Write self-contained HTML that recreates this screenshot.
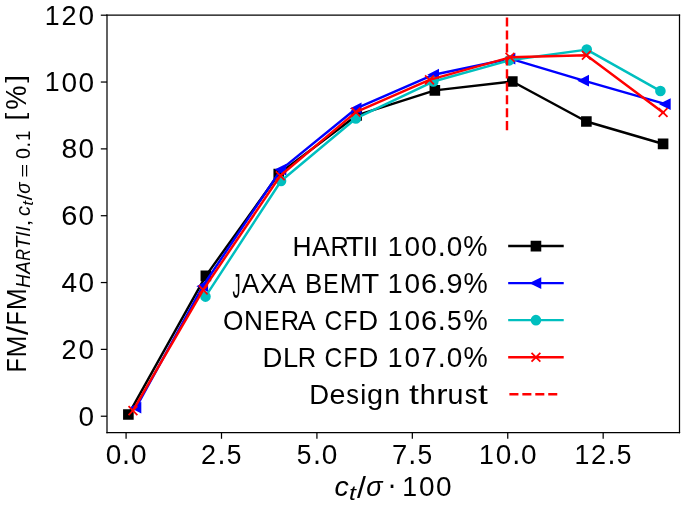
<!DOCTYPE html>
<html><head><meta charset="utf-8"><title>FM vs thrust chart</title>
<style>html,body{margin:0;padding:0;background:#fff;width:685px;height:505px;overflow:hidden}</style>
</head><body>
<svg width="685" height="505" viewBox="0 0 387.00565 285.310734" style="display:block;will-change:transform;font-family:'Liberation Sans',sans-serif">
<defs>
<style type="text/css">*{stroke-linejoin: round; stroke-linecap: butt}</style>
</defs>
<g id="figure_1">
<g id="patch_1">
<path d="M 0 285.310734 
L 387.00565 285.310734 
L 387.00565 0 
L 0 0 
z
" style="fill: #ffffff"/>
</g>
<g id="axes_1">
<g id="patch_2">
<path d="M 60.451977 244.40678 
L 383.898305 244.40678 
L 383.898305 8.587571 
L 60.451977 8.587571 
z
" style="fill: #ffffff"/>
</g>
<g id="matplotlib.axis_1">
<g id="xtick_1">
<g id="line2d_1">
<defs>
<path id="mb0549d59f7" d="M 0 0 
L 0 3.5 
" style="stroke: #000000; stroke-width: 0.7"/>
</defs>
<g>
<use href="#mb0549d59f7" x="71.233522" y="244.40678" style="stroke: #000000; stroke-width: 0.7"/>
</g>
</g>
<g id="text_1">
<g><text transform="matrix(1.054 0 0 1.068 59.677 262.01)" font-size="15">0</text><text transform="matrix(1.082 0 0 1.16 68.971 261.954)" font-size="15">.</text><text transform="matrix(1.054 0 0 1.068 73.989 262.01)" font-size="15">0</text></g>
</g>
</g>
<g id="xtick_2">
<g id="line2d_2">
<g>
<use href="#mb0549d59f7" x="125.141243" y="244.40678" style="stroke: #000000; stroke-width: 0.7"/>
</g>
</g>
<g id="text_2">
<g><text transform="matrix(1.016 0 0 1.063 113.546 261.954)" font-size="15">2</text><text transform="matrix(1.082 0 0 1.16 122.879 261.954)" font-size="15">.</text><text transform="matrix(0.995 0 0 1.065 128.085 262.011)" font-size="15">5</text></g>
</g>
</g>
<g id="xtick_3">
<g id="line2d_3">
<g>
<use href="#mb0549d59f7" x="179.048964" y="244.40678" style="stroke: #000000; stroke-width: 0.7"/>
</g>
</g>
<g id="text_3">
<g><text transform="matrix(0.995 0 0 1.065 167.681 262.011)" font-size="15">5</text><text transform="matrix(1.082 0 0 1.16 176.787 261.954)" font-size="15">.</text><text transform="matrix(1.054 0 0 1.068 181.804 262.01)" font-size="15">0</text></g>
</g>
</g>
<g id="xtick_4">
<g id="line2d_4">
<g>
<use href="#mb0549d59f7" x="232.956685" y="244.40678" style="stroke: #000000; stroke-width: 0.7"/>
</g>
</g>
<g id="text_4">
<g><text transform="matrix(1.031 0 0 1.06 221.467 261.954)" font-size="15">7</text><text transform="matrix(1.082 0 0 1.16 230.695 261.954)" font-size="15">.</text><text transform="matrix(0.995 0 0 1.065 235.9 262.011)" font-size="15">5</text></g>
</g>
</g>
<g id="xtick_5">
<g id="line2d_5">
<g>
<use href="#mb0549d59f7" x="286.864407" y="244.40678" style="stroke: #000000; stroke-width: 0.7"/>
</g>
</g>
<g id="text_5">
<g><text transform="matrix(1.007 0 0 1.06 270.663 261.954)" font-size="15">1</text><text transform="matrix(1.054 0 0 1.068 280.08 262.01)" font-size="15">0</text><text transform="matrix(1.082 0 0 1.16 289.374 261.954)" font-size="15">.</text><text transform="matrix(1.054 0 0 1.068 294.391 262.01)" font-size="15">0</text></g>
</g>
</g>
<g id="xtick_6">
<g id="line2d_6">
<g>
<use href="#mb0549d59f7" x="340.772128" y="244.40678" style="stroke: #000000; stroke-width: 0.7"/>
</g>
</g>
<g id="text_6">
<g><text transform="matrix(1.007 0 0 1.06 324.571 261.954)" font-size="15">1</text><text transform="matrix(1.016 0 0 1.063 333.948 261.954)" font-size="15">2</text><text transform="matrix(1.082 0 0 1.16 343.282 261.954)" font-size="15">.</text><text transform="matrix(0.995 0 0 1.065 348.488 262.011)" font-size="15">5</text></g>
</g>
</g>
<g id="text_7">
<g transform="translate(188.875 280.922)">
<text transform="matrix(1.075 0 0 1.048 0.161 -0.801)" font-size="15" font-style="italic">c</text><text transform="matrix(1.017 0 0 1.044 18.037 -0.8)" font-size="15" font-style="italic">σ</text><text transform="matrix(1.344 0 0 1.07 8.278 1.492)" font-size="10.5" font-style="italic">t</text><text transform="matrix(1.213 0 0 1.119 12.774 0.368)" font-size="15">/</text><text transform="matrix(1.082 0 0 1.155 29.935 -1.365)" font-size="15">·</text><text transform="matrix(1.007 0 0 1.06 38.445 -0.859)" font-size="15">1</text><text transform="matrix(1.054 0 0 1.068 47.862 -0.803)" font-size="15">0</text><text transform="matrix(1.054 0 0 1.068 57.406 -0.803)" font-size="15">0</text>
</g>
</g>
</g>
<g id="matplotlib.axis_2">
<g id="ytick_1">
<g id="line2d_7">
<defs>
<path id="m64997209d9" d="M 0 0 
L -3.5 0 
" style="stroke: #000000; stroke-width: 0.7"/>
</defs>
<g>
<use href="#m64997209d9" x="60.451977" y="235.155265" style="stroke: #000000; stroke-width: 0.7"/>
</g>
</g>
<g id="text_8">
<g><text transform="matrix(1.054 0 0 1.068 44.28 240.51)" font-size="15">0</text></g>
</g>
</g>
<g id="ytick_2">
<g id="line2d_8">
<g>
<use href="#m64997209d9" x="60.451977" y="197.393983" style="stroke: #000000; stroke-width: 0.7"/>
</g>
</g>
<g id="text_9">
<g><text transform="matrix(1.016 0 0 1.063 34.697 202.693)" font-size="15">2</text><text transform="matrix(1.054 0 0 1.068 44.28 202.749)" font-size="15">0</text></g>
</g>
</g>
<g id="ytick_3">
<g id="line2d_9">
<g>
<use href="#m64997209d9" x="60.451977" y="159.632701" style="stroke: #000000; stroke-width: 0.7"/>
</g>
</g>
<g id="text_10">
<g><text transform="matrix(1.054 0 0 1.06 34.735 164.932)" font-size="15">4</text><text transform="matrix(1.054 0 0 1.068 44.28 164.987)" font-size="15">0</text></g>
</g>
</g>
<g id="ytick_4">
<g id="line2d_10">
<g>
<use href="#m64997209d9" x="60.451977" y="121.871418" style="stroke: #000000; stroke-width: 0.7"/>
</g>
</g>
<g id="text_11">
<g><text transform="matrix(1.091 0 0 1.068 34.581 127.226)" font-size="15">6</text><text transform="matrix(1.054 0 0 1.068 44.28 127.226)" font-size="15">0</text></g>
</g>
</g>
<g id="ytick_5">
<g id="line2d_11">
<g>
<use href="#m64997209d9" x="60.451977" y="84.110136" style="stroke: #000000; stroke-width: 0.7"/>
</g>
</g>
<g id="text_12">
<g><text transform="matrix(1.066 0 0 1.068 34.689 89.465)" font-size="15">8</text><text transform="matrix(1.054 0 0 1.068 44.28 89.465)" font-size="15">0</text></g>
</g>
</g>
<g id="ytick_6">
<g id="line2d_12">
<g>
<use href="#m64997209d9" x="60.451977" y="46.348853" style="stroke: #000000; stroke-width: 0.7"/>
</g>
</g>
<g id="text_13">
<g><text transform="matrix(1.007 0 0 1.06 25.319 51.648)" font-size="15">1</text><text transform="matrix(1.054 0 0 1.068 34.736 51.704)" font-size="15">0</text><text transform="matrix(1.054 0 0 1.068 44.28 51.704)" font-size="15">0</text></g>
</g>
</g>
<g id="ytick_7">
<g id="line2d_13">
<g>
<use href="#m64997209d9" x="60.451977" y="8.587571" style="stroke: #000000; stroke-width: 0.7"/>
</g>
</g>
<g id="text_14">
<g><text transform="matrix(1.007 0 0 1.06 25.319 13.886)" font-size="15">1</text><text transform="matrix(1.016 0 0 1.063 34.697 13.886)" font-size="15">2</text><text transform="matrix(1.054 0 0 1.068 44.28 13.942)" font-size="15">0</text></g>
</g>
</g>
<g id="text_15">
<g transform="translate(15.221 210.797) rotate(-90)">
<text transform="matrix(0.857 0 0 1.06 0.417 -0.609)" font-size="15">F</text><text transform="matrix(0.997 0 0 1.06 8.873 -0.609)" font-size="15">M</text><text transform="matrix(1.213 0 0 1.119 21.57 0.618)" font-size="15">/</text><text transform="matrix(0.857 0 0 1.06 27.041 -0.609)" font-size="15">F</text><text transform="matrix(0.997 0 0 1.06 35.497 -0.609)" font-size="15">M</text><text transform="matrix(1.042 0 0 0.957 142.777 -1.609)" font-size="15">[</text><text transform="matrix(1.027 0 0 1.081 148.732 -0.492)" font-size="15">%</text><text transform="matrix(1.042 0 0 0.957 164.042 -1.609)" font-size="15">]</text><text transform="matrix(1.008 0 0 1.06 48.293 1.852)" font-size="10.5" font-style="italic">H</text><text transform="matrix(1.009 0 0 1.06 56.196 1.852)" font-size="10.5" font-style="italic">A</text><text transform="matrix(0.868 0 0 1.06 63.417 1.852)" font-size="10.5" font-style="italic">R</text><text transform="matrix(1.091 0 0 1.06 70.133 1.852)" font-size="10.5" font-style="italic">T</text><text transform="matrix(1.062 0 0 1.06 76.966 1.852)" font-size="10.5" font-style="italic">I</text><text transform="matrix(1.062 0 0 1.06 80.062 1.852)" font-size="10.5" font-style="italic">I</text><text transform="matrix(1.075 0 0 1.048 88.814 1.893)" font-size="10.5" font-style="italic">c</text><text transform="matrix(1.017 0 0 1.044 101.328 1.893)" font-size="10.5" font-style="italic">σ</text><text transform="matrix(1.458 0 0 1.023 82.753 1.698)" font-size="10.5">,</text><text transform="matrix(1.213 0 0 1.119 97.643 2.711)" font-size="10.5">/</text><text transform="matrix(1.288 0 0 0.876 110.333 1.591)" font-size="10.5">=</text><text transform="matrix(1.054 0 0 1.068 120.985 1.891)" font-size="10.5">0</text><text transform="matrix(1.082 0 0 1.16 127.491 1.852)" font-size="10.5">.</text><text transform="matrix(1.007 0 0 1.06 131.091 1.852)" font-size="10.5">1</text><text transform="matrix(1.344 0 0 1.07 94.496 3.497)" font-size="7.35" font-style="italic">t</text>
</g>
</g>
</g>
<g id="line2d_14">
<path d="M 72.527307 234.211233 
L 116.300377 155.856572 
L 157.485876 98.270616 
L 201.474576 65.229494 
L 245.678908 51.069013 
L 289.451977 46.065643 
L 331.284369 68.62801 
L 374.626177 81.278039 
" clip-path="url(#pd6774ef865)" style="fill: none; stroke: #000000; stroke-width: 1.38; stroke-linecap: square"/>
<defs>
<path id="m904d52874a" d="M -2.5 2.5 
L 2.5 2.5 
L 2.5 -2.5 
L -2.5 -2.5 
z
" style="stroke: #000000; stroke-linejoin: miter"/>
</defs>
<g clip-path="url(#pd6774ef865)">
<use href="#m904d52874a" x="72.527307" y="234.211233" style="stroke: #000000; stroke-linejoin: miter"/>
<use href="#m904d52874a" x="116.300377" y="155.856572" style="stroke: #000000; stroke-linejoin: miter"/>
<use href="#m904d52874a" x="157.485876" y="98.270616" style="stroke: #000000; stroke-linejoin: miter"/>
<use href="#m904d52874a" x="201.474576" y="65.229494" style="stroke: #000000; stroke-linejoin: miter"/>
<use href="#m904d52874a" x="245.678908" y="51.069013" style="stroke: #000000; stroke-linejoin: miter"/>
<use href="#m904d52874a" x="289.451977" y="46.065643" style="stroke: #000000; stroke-linejoin: miter"/>
<use href="#m904d52874a" x="331.284369" y="68.62801" style="stroke: #000000; stroke-linejoin: miter"/>
<use href="#m904d52874a" x="374.626177" y="81.278039" style="stroke: #000000; stroke-linejoin: miter"/>
</g>
</g>
<g id="line2d_15">
<path d="M 76.839925 230.246299 
L 114.57533 161.709571 
L 158.779661 95.816133 
L 201.258945 61.26456 
L 245.032015 42.195112 
L 288.158192 33.132404 
L 329.774953 45.593627 
L 375.919962 58.810076 
" clip-path="url(#pd6774ef865)" style="fill: none; stroke: #0000ff; stroke-width: 1.38; stroke-linecap: square"/>
<defs>
<path id="m5f2c9bb269" d="M -2.5 -0 
L 2.5 2.5 
L 2.5 -2.5 
z
" style="stroke: #0000ff; stroke-linejoin: miter"/>
</defs>
<g clip-path="url(#pd6774ef865)">
<use href="#m5f2c9bb269" x="76.839925" y="230.246299" style="fill: #0000ff; stroke: #0000ff; stroke-linejoin: miter"/>
<use href="#m5f2c9bb269" x="114.57533" y="161.709571" style="fill: #0000ff; stroke: #0000ff; stroke-linejoin: miter"/>
<use href="#m5f2c9bb269" x="158.779661" y="95.816133" style="fill: #0000ff; stroke: #0000ff; stroke-linejoin: miter"/>
<use href="#m5f2c9bb269" x="201.258945" y="61.26456" style="fill: #0000ff; stroke: #0000ff; stroke-linejoin: miter"/>
<use href="#m5f2c9bb269" x="245.032015" y="42.195112" style="fill: #0000ff; stroke: #0000ff; stroke-linejoin: miter"/>
<use href="#m5f2c9bb269" x="288.158192" y="33.132404" style="fill: #0000ff; stroke: #0000ff; stroke-linejoin: miter"/>
<use href="#m5f2c9bb269" x="329.774953" y="45.593627" style="fill: #0000ff; stroke: #0000ff; stroke-linejoin: miter"/>
<use href="#m5f2c9bb269" x="375.919962" y="58.810076" style="fill: #0000ff; stroke: #0000ff; stroke-linejoin: miter"/>
</g>
</g>
<g id="line2d_16">
<path d="M 116.084746 167.56257 
L 158.779661 102.235551 
L 201.043315 66.928752 
L 244.816384 46.065643 
L 287.72693 34.076436 
L 331.5 28.034631 
L 373.116761 51.446626 
" clip-path="url(#pd6774ef865)" style="fill: none; stroke: #00bfbf; stroke-width: 1.38; stroke-linecap: square"/>
<defs>
<path id="m16606f0b9c" d="M 0 2.5 
C 0.663008 2.5 1.29895 2.236584 1.767767 1.767767 
C 2.236584 1.29895 2.5 0.663008 2.5 0 
C 2.5 -0.663008 2.236584 -1.29895 1.767767 -1.767767 
C 1.29895 -2.236584 0.663008 -2.5 0 -2.5 
C -0.663008 -2.5 -1.29895 -2.236584 -1.767767 -1.767767 
C -2.236584 -1.29895 -2.5 -0.663008 -2.5 0 
C -2.5 0.663008 -2.236584 1.29895 -1.767767 1.767767 
C -1.29895 2.236584 -0.663008 2.5 0 2.5 
z
" style="stroke: #00bfbf"/>
</defs>
<g clip-path="url(#pd6774ef865)">
<use href="#m16606f0b9c" x="116.084746" y="167.56257" style="fill: #00bfbf; stroke: #00bfbf"/>
<use href="#m16606f0b9c" x="158.779661" y="102.235551" style="fill: #00bfbf; stroke: #00bfbf"/>
<use href="#m16606f0b9c" x="201.043315" y="66.928752" style="fill: #00bfbf; stroke: #00bfbf"/>
<use href="#m16606f0b9c" x="244.816384" y="46.065643" style="fill: #00bfbf; stroke: #00bfbf"/>
<use href="#m16606f0b9c" x="287.72693" y="34.076436" style="fill: #00bfbf; stroke: #00bfbf"/>
<use href="#m16606f0b9c" x="331.5" y="28.034631" style="fill: #00bfbf; stroke: #00bfbf"/>
<use href="#m16606f0b9c" x="373.116761" y="51.446626" style="fill: #00bfbf; stroke: #00bfbf"/>
</g>
</g>
<g id="line2d_17">
<path d="M 75.114878 231.964437 
L 114.79096 163.786442 
L 158.348399 99.309052 
L 201.043315 63.34143 
L 242.660075 45.121611 
L 288.158192 32.377179 
L 331.284369 31.24434 
L 374.626177 63.530237 
" clip-path="url(#pd6774ef865)" style="fill: none; stroke: #ff0000; stroke-width: 1.38; stroke-linecap: square"/>
<defs>
<path id="mf1f9e52dcc" d="M -2.5 2.5 
L 2.5 -2.5 
M -2.5 -2.5 
L 2.5 2.5 
" style="stroke: #ff0000"/>
</defs>
<g clip-path="url(#pd6774ef865)">
<use href="#mf1f9e52dcc" x="75.114878" y="231.964437" style="fill: #ff0000; stroke: #ff0000"/>
<use href="#mf1f9e52dcc" x="114.79096" y="163.786442" style="fill: #ff0000; stroke: #ff0000"/>
<use href="#mf1f9e52dcc" x="158.348399" y="99.309052" style="fill: #ff0000; stroke: #ff0000"/>
<use href="#mf1f9e52dcc" x="201.043315" y="63.34143" style="fill: #ff0000; stroke: #ff0000"/>
<use href="#mf1f9e52dcc" x="242.660075" y="45.121611" style="fill: #ff0000; stroke: #ff0000"/>
<use href="#mf1f9e52dcc" x="288.158192" y="32.377179" style="fill: #ff0000; stroke: #ff0000"/>
<use href="#mf1f9e52dcc" x="331.284369" y="31.24434" style="fill: #ff0000; stroke: #ff0000"/>
<use href="#mf1f9e52dcc" x="374.626177" y="63.530237" style="fill: #ff0000; stroke: #ff0000"/>
</g>
</g>
<g id="line2d_18">
<path d="M 286.433145 73.536976 
L 286.433145 8.587571 
" clip-path="url(#pd6774ef865)" style="fill: none; stroke-dasharray: 5.106,2.208; stroke-dashoffset: 0; stroke: #ff0000; stroke-width: 1.38"/>
</g>
<g id="patch_3">
<path d="M 60.451977 244.40678 
L 60.451977 8.587571 
" style="fill: none; stroke: #000000; stroke-width: 0.7; stroke-linejoin: miter; stroke-linecap: square"/>
</g>
<g id="patch_4">
<path d="M 383.898305 244.40678 
L 383.898305 8.587571 
" style="fill: none; stroke: #000000; stroke-width: 0.7; stroke-linejoin: miter; stroke-linecap: square"/>
</g>
<g id="patch_5">
<path d="M 60.451977 244.40678 
L 383.898305 244.40678 
" style="fill: none; stroke: #000000; stroke-width: 0.7; stroke-linejoin: miter; stroke-linecap: square"/>
</g>
<g id="patch_6">
<path d="M 60.451977 8.587571 
L 383.898305 8.587571 
" style="fill: none; stroke: #000000; stroke-width: 0.7; stroke-linejoin: miter; stroke-linecap: square"/>
</g>
<g id="legend_1">
<g id="text_16">
<g><text transform="matrix(0.995 0 0 1.06 165.195 144.579)" font-size="15">H</text><text transform="matrix(1.007 0 0 1.06 176.314 144.579)" font-size="15">A</text><text transform="matrix(0.956 0 0 1.06 186.782 144.579)" font-size="15">R</text><text transform="matrix(1.091 0 0 1.06 195.373 144.579)" font-size="15">T</text><text transform="matrix(1.058 0 0 1.06 204.955 144.579)" font-size="15">I</text><text transform="matrix(1.058 0 0 1.06 209.379 144.579)" font-size="15">I</text><text transform="matrix(1.007 0 0 1.06 219.06 144.579)" font-size="15">1</text><text transform="matrix(1.054 0 0 1.068 228.477 144.635)" font-size="15">0</text><text transform="matrix(1.054 0 0 1.068 238.021 144.635)" font-size="15">0</text><text transform="matrix(1.082 0 0 1.16 247.315 144.579)" font-size="15">.</text><text transform="matrix(1.054 0 0 1.068 252.332 144.635)" font-size="15">0</text><text transform="matrix(1.027 0 0 1.081 261.783 144.696)" font-size="15">%</text></g>
</g>
<g id="line2d_19">
<path d="M 287.79661 139.029012 
L 302.79661 139.029012 
L 317.79661 139.029012 
" style="fill: none; stroke: #000000; stroke-width: 1.38; stroke-linecap: square"/>
<g>
<use href="#m904d52874a" x="302.79661" y="139.029012" style="stroke: #000000; stroke-linejoin: miter"/>
</g>
</g>
<g id="text_17">
<g><text transform="matrix(0.606 0 0 1.332 131.317 168.309)" font-size="15">J</text><text transform="matrix(1.007 0 0 1.06 136.496 165.501)" font-size="15">A</text><text transform="matrix(1.001 0 0 1.06 146.78 165.501)" font-size="15">X</text><text transform="matrix(1.007 0 0 1.06 157.034 165.501)" font-size="15">A</text><text transform="matrix(0.972 0 0 1.06 172.252 165.501)" font-size="15">B</text><text transform="matrix(0.867 0 0 1.06 182.671 165.501)" font-size="15">E</text><text transform="matrix(0.997 0 0 1.06 191.988 165.501)" font-size="15">M</text><text transform="matrix(1.091 0 0 1.06 204.274 165.501)" font-size="15">T</text><text transform="matrix(1.007 0 0 1.06 219.113 165.501)" font-size="15">1</text><text transform="matrix(1.054 0 0 1.068 228.53 165.557)" font-size="15">0</text><text transform="matrix(1.091 0 0 1.068 237.919 165.557)" font-size="15">6</text><text transform="matrix(1.082 0 0 1.16 247.368 165.501)" font-size="15">.</text><text transform="matrix(1.089 0 0 1.068 252.193 165.557)" font-size="15">9</text><text transform="matrix(1.027 0 0 1.081 261.836 165.619)" font-size="15">%</text></g>
</g>
<g id="line2d_20">
<path d="M 287.79661 159.9512 
L 302.79661 159.9512 
L 317.79661 159.9512 
" style="fill: none; stroke: #0000ff; stroke-width: 1.38; stroke-linecap: square"/>
<g>
<use href="#m5f2c9bb269" x="302.79661" y="159.9512" style="fill: #0000ff; stroke: #0000ff; stroke-linejoin: miter"/>
</g>
</g>
<g id="text_18">
<g><text transform="matrix(0.989 0 0 1.068 125.965 186.479)" font-size="15">O</text><text transform="matrix(0.988 0 0 1.06 137.888 186.423)" font-size="15">N</text><text transform="matrix(0.867 0 0 1.06 149.258 186.423)" font-size="15">E</text><text transform="matrix(0.956 0 0 1.06 158.625 186.423)" font-size="15">R</text><text transform="matrix(1.007 0 0 1.06 168.215 186.423)" font-size="15">A</text><text transform="matrix(0.928 0 0 1.068 183.291 186.479)" font-size="15">C</text><text transform="matrix(0.857 0 0 1.06 194.047 186.423)" font-size="15">F</text><text transform="matrix(1.035 0 0 1.06 202.457 186.423)" font-size="15">D</text><text transform="matrix(1.007 0 0 1.06 219.074 186.423)" font-size="15">1</text><text transform="matrix(1.054 0 0 1.068 228.491 186.479)" font-size="15">0</text><text transform="matrix(1.091 0 0 1.068 237.879 186.479)" font-size="15">6</text><text transform="matrix(1.082 0 0 1.16 247.329 186.423)" font-size="15">.</text><text transform="matrix(0.995 0 0 1.065 252.534 186.48)" font-size="15">5</text><text transform="matrix(1.027 0 0 1.081 261.797 186.541)" font-size="15">%</text></g>
</g>
<g id="line2d_21">
<path d="M 287.79661 180.873387 
L 302.79661 180.873387 
L 317.79661 180.873387 
" style="fill: none; stroke: #00bfbf; stroke-width: 1.38; stroke-linecap: square"/>
<g>
<use href="#m16606f0b9c" x="302.79661" y="180.873387" style="fill: #00bfbf; stroke: #00bfbf"/>
</g>
</g>
<g id="text_19">
<g><text transform="matrix(1.035 0 0 1.06 148.285 207.346)" font-size="15">D</text><text transform="matrix(1.029 0 0 1.06 159.842 207.346)" font-size="15">L</text><text transform="matrix(0.956 0 0 1.06 168.288 207.346)" font-size="15">R</text><text transform="matrix(0.928 0 0 1.068 183.319 207.401)" font-size="15">C</text><text transform="matrix(0.857 0 0 1.06 194.074 207.346)" font-size="15">F</text><text transform="matrix(1.035 0 0 1.06 202.484 207.346)" font-size="15">D</text><text transform="matrix(1.007 0 0 1.06 219.101 207.346)" font-size="15">1</text><text transform="matrix(1.054 0 0 1.068 228.518 207.401)" font-size="15">0</text><text transform="matrix(1.031 0 0 1.06 238.128 207.346)" font-size="15">7</text><text transform="matrix(1.082 0 0 1.16 247.356 207.346)" font-size="15">.</text><text transform="matrix(1.054 0 0 1.068 252.373 207.401)" font-size="15">0</text><text transform="matrix(1.027 0 0 1.081 261.824 207.463)" font-size="15">%</text></g>
</g>
<g id="line2d_22">
<path d="M 287.79661 201.795575 
L 302.79661 201.795575 
L 317.79661 201.795575 
" style="fill: none; stroke: #ff0000; stroke-width: 1.38; stroke-linecap: square"/>
<g>
<use href="#mf1f9e52dcc" x="302.79661" y="201.795575" style="fill: #ff0000; stroke: #ff0000"/>
</g>
</g>
<g id="text_20">
<g><text transform="matrix(1.035 0 0 1.06 174.685 228.268)" font-size="15">D</text><text transform="matrix(1.08 0 0 1.048 186.175 228.327)" font-size="15">e</text><text transform="matrix(0.959 0 0 1.051 195.677 228.326)" font-size="15">s</text><text transform="matrix(1.022 0 0 1.049 203.467 228.268)" font-size="15">i</text><text transform="matrix(1.087 0 0 1.032 207.39 228.175)" font-size="15">g</text><text transform="matrix(1.078 0 0 1.041 217.057 228.268)" font-size="15">n</text><text transform="matrix(1.337 0 0 1.073 231.143 228.142)" font-size="15">t</text><text transform="matrix(1.086 0 0 1.049 237.158 228.268)" font-size="15">h</text><text transform="matrix(1.281 0 0 1.041 246.518 228.268)" font-size="15">r</text><text transform="matrix(1.078 0 0 1.067 252.823 228.324)" font-size="15">u</text><text transform="matrix(0.959 0 0 1.051 262.518 228.326)" font-size="15">s</text><text transform="matrix(1.337 0 0 1.073 270.02 228.142)" font-size="15">t</text></g>
</g>
<g id="line2d_23">
<path d="M 287.79661 222.717762 L 316.897 222.717762" style="fill: none; stroke-dasharray: 5.106,2.208; stroke-dashoffset: 0; stroke: #ff0000; stroke-width: 1.38"/>
</g>
</g>
</g>
</g>
<defs>
<clipPath id="pd6774ef865">
<rect x="60.451977" y="8.587571" width="323.446328" height="235.819209"/>
</clipPath>
</defs>
</svg>

</body></html>
